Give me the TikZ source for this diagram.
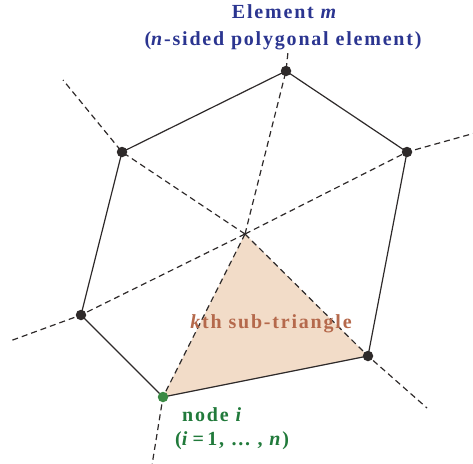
\documentclass[tikz,border=0pt]{standalone}
\usepackage{fontspec}
\setmainfont[LetterSpace=9]{Liberation Serif}
\usepackage{xcolor}
\definecolor{navyblue}{HTML}{2B3590}
\definecolor{leafgreen}{HTML}{217A3B}
\definecolor{dotgreen}{HTML}{3A8A44}
\definecolor{rust}{HTML}{B5694C}
\definecolor{peach}{HTML}{F2DCC8}
\definecolor{inkgray}{HTML}{2E2A2A}
\usepackage{tikz}
\usetikzlibrary{positioning,calc}
\tikzset{
  vertex/.style={circle,fill=inkgray,inner sep=0pt,minimum size=10.5pt},
  greenvertex/.style={vertex,fill=dotgreen},
  side/.style={draw=inkgray,line width=1.2pt},
  ray/.style={draw=inkgray,line width=1.2pt,dash pattern=on 6pt off 4pt},
  title/.style={font=\bfseries\fontsize{20}{24}\selectfont,text=navyblue,inner sep=0pt,anchor=base},
  tag/.style={font=\bfseries\fontsize{20}{24}\selectfont,text=leafgreen,inner sep=0pt,anchor=base west},
  sublabel/.style={font=\bfseries\fontsize{20}{24}\selectfont,text=rust,inner sep=0pt,anchor=base}
}

\begin{document}
\begin{tikzpicture}[x=1pt,y=-1pt]
  \useasboundingbox (0,0) rectangle (473,463);

  % Centre and polygon nodes
  \coordinate (cen) at (245,234);
  \coordinate (v1) at (286,71);
  \coordinate (v2) at (407,152);
  \coordinate (v3) at (368,356);
  \coordinate (v4) at (163,397);
  \coordinate (v5) at (81,315);
  \coordinate (v6) at (122,152);

  % Outer ends of the dashed lines
  \coordinate (o1) at (288,52);
  \coordinate (o2) at (475,133);
  \coordinate (o3) at (427,408);
  \coordinate (o4) at (152,465);
  \coordinate (o5) at (10,341);
  \coordinate (o6) at (63,80);

  % Sub-triangle
  \fill[peach] (cen) -- (v4) -- (v3) -- cycle;

  % Dashed lines
  \foreach \k in {1,...,6}
    \draw[ray] (cen) -- (v\k) -- (o\k);

  % Polygon sides
  \draw[side] (v1) -- (v2) -- (v3) -- (v4) -- (v5) -- (v6) -- cycle;

  % Nodes
  \foreach \k in {1,2,3,5,6}
    \node[vertex] (n\k) at (v\k) {};
  \node[greenvertex] (n4) at (v4) {};

  % Labels
  \node[title] (elem) at (285,18) {Element \textit{m}};
  \node[title] (elemdesc) at (283,45) {(\textit{n}-sided polygonal element)};
  \node[sublabel] (subtri) at (271,328) {\textit{k}th sub-triangle};
  \node[tag] (nodei) at (182,421) {node \textit{i}};
  \node[tag] (range) at (175,445) {(\textit{i}\,=\,1, \dots\ , \textit{n})};
\end{tikzpicture}
\end{document}
